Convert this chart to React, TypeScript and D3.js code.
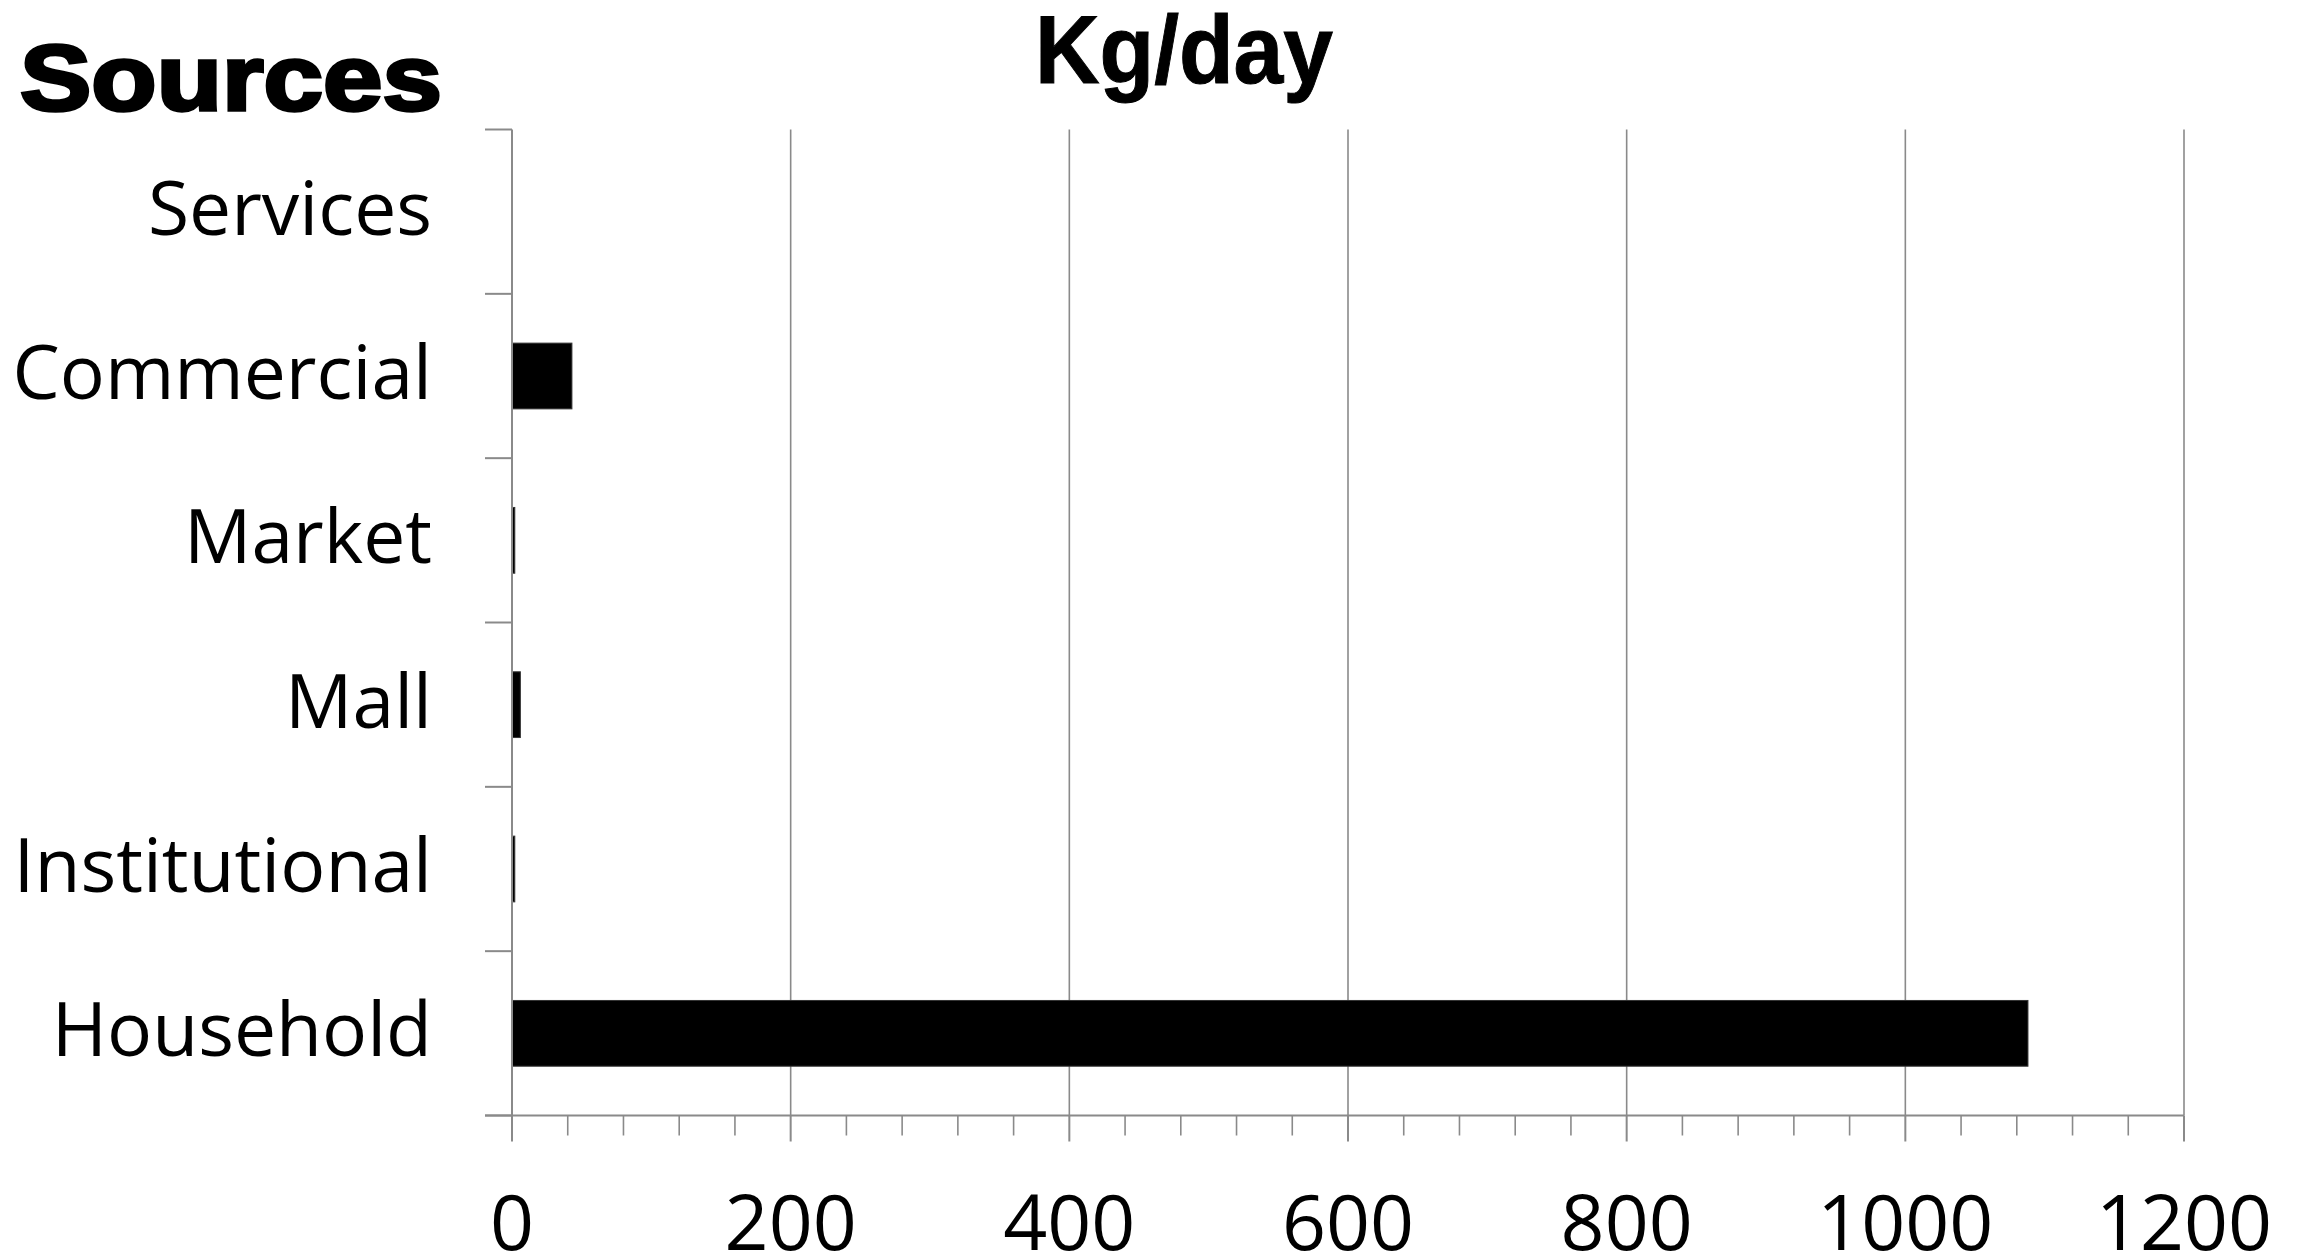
import React from "react";
import * as d3 from "d3";

const categories = ["Services", "Commercial", "Market", "Mall", "Institutional", "Household"];
const values = [0, 43, 2, 6, 2, 1088];
const majorTicks = [0, 200, 400, 600, 800, 1000, 1200];
const minorStep = 40;
const title = "Kg/day";
const axisTitle = "Sources";

const W = 2302;
const H = 1259;
const left = 512;
const right = 2184;
const top = 129.5;
const bottom = 1115.5;
const axisColor = "#8a8a8a";

export default function App() {
  const x = d3.scaleLinear().domain([0, 1200]).range([left, right]);
  const y = d3
    .scaleBand<string>()
    .domain(categories)
    .range([top, bottom])
    .paddingInner(0.6)
    .paddingOuter(0.3);
  const step = y.step();
  const boundaries = d3.range(categories.length + 1).map((i) => top + i * step);
  const minorTicks = d3.range(0, 1200 + 1, minorStep).filter((v) => v % 200 !== 0);
  const labelFont = "'Open Sans', sans-serif";

  return (
    <svg
      width={W}
      height={H}
      style={{ position: "absolute", left: 0, top: 0, background: "#fff" }}
    >
      {majorTicks.filter((t) => t !== 0).map((t) => (
        <line key={"g" + t} x1={x(t)} x2={x(t)} y1={top} y2={bottom} stroke={axisColor} strokeWidth={1.6} />
      ))}
      {categories.map((c, i) => (
        <rect
          key={c}
          x={x(0)}
          y={y(c)!}
          width={Math.max(0, x(values[i]) - x(0))}
          height={y.bandwidth()}
          fill="#000"
          stroke={values[i] > 0 ? "#333" : "none"}
          strokeWidth={1}
        />
      ))}
      <line x1={left} x2={left} y1={top} y2={bottom} stroke={axisColor} strokeWidth={2} />
      {boundaries.map((b, i) => (
        <line key={"yt" + i} x1={left - 27} x2={left} y1={b} y2={b} stroke={axisColor} strokeWidth={2} />
      ))}
      <line x1={left - 27} x2={right} y1={bottom} y2={bottom} stroke={axisColor} strokeWidth={2} />
      {majorTicks.map((t) => (
        <line key={"xt" + t} x1={x(t)} x2={x(t)} y1={bottom} y2={bottom + 26} stroke={axisColor} strokeWidth={2} />
      ))}
      {minorTicks.map((t) => (
        <line key={"xm" + t} x1={x(t)} x2={x(t)} y1={bottom} y2={bottom + 20} stroke={axisColor} strokeWidth={1.6} />
      ))}
      {majorTicks.map((t) => (
        <text
          key={"xl" + t}
          x={x(t)}
          y={1250}
          textAnchor="middle"
          fontFamily={labelFont}
          fontSize={77}
          fill="#000"
        >
          {t}
        </text>
      ))}
      {categories.map((c) => (
        <text
          key={"yl" + c}
          x={432}
          y={y(c)! + y.bandwidth() / 2 + 23}
          textAnchor="end"
          fontFamily={labelFont}
          fontSize={75}
          fill="#000"
        >
          {c}
        </text>
      ))}
      <text
        x={20}
        y={110}
        fontFamily="'Liberation Sans', Arial, sans-serif"
        fontWeight="bold"
        fontSize={93}
        textLength={422}
        lengthAdjust="spacingAndGlyphs"
        stroke="#000"
        strokeWidth={3.5}
        fill="#000"
      >
        {axisTitle}
      </text>
      <text
        x={1035}
        y={83}
        fontFamily="'Liberation Sans', Arial, sans-serif"
        fontWeight="bold"
        fontSize={97}
        textLength={298}
        lengthAdjust="spacingAndGlyphs"
        stroke="#000"
        strokeWidth={1}
        fill="#000"
      >
        {title}
      </text>
    </svg>
  );
}
